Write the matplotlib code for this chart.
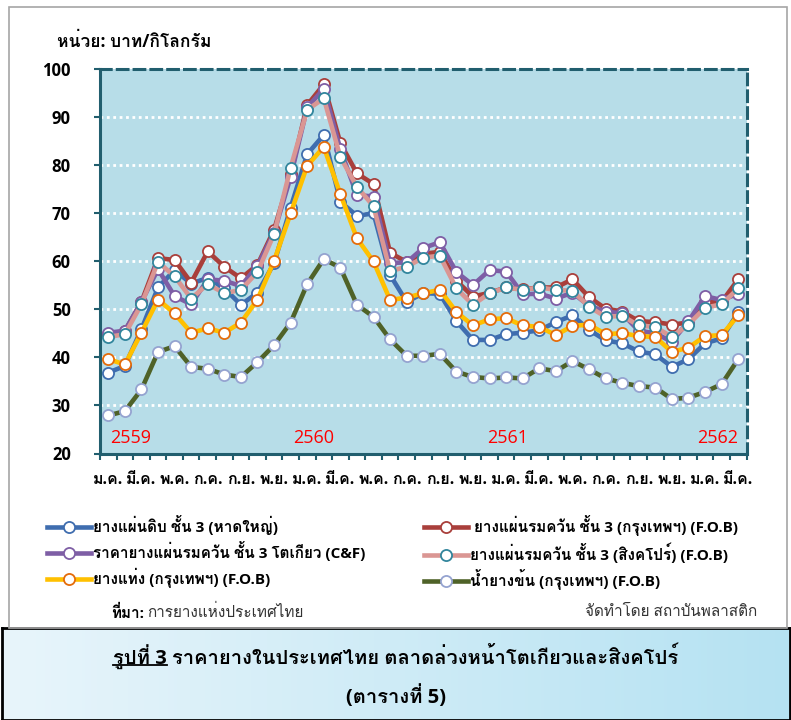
import numpy as np
import matplotlib
matplotlib.use('Agg')
import matplotlib.pyplot as plt
from matplotlib import font_manager as fm
from matplotlib.lines import Line2D
from matplotlib.patches import Rectangle
from matplotlib.colors import LinearSegmentedColormap
import matplotlib.patheffects as pe

# ---------------- data ----------------
month_labels = ['ม.ค.', 'มี.ค.', 'พ.ค.', 'ก.ค.', 'ก.ย.', 'พ.ย.',
                'ม.ค.', 'มี.ค.', 'พ.ค.', 'ก.ค.', 'ก.ย.', 'พ.ย.',
                'ม.ค.', 'มี.ค.', 'พ.ค.', 'ก.ค.', 'ก.ย.', 'พ.ย.',
                'ม.ค.', 'มี.ค.']
year_labels = ['2559', '2560', '2561', '2562']

rss3_hatyai = [36.8, 38.2, 45.8, 54.5, 58.1, 55.3, 56.5, 54.3, 50.9, 53.4, 59.5, 71.1, 82.2, 86.2,
               72.3, 69.4, 69.9, 57.1, 51.5, 53.3, 53.2, 47.5, 43.6, 43.6, 44.8, 45.1, 45.6, 47.3, 48.7,
               45.7, 43.5, 42.9, 41.2, 40.6, 38.0, 39.6, 42.9, 43.9, 49.3]
rss3_bkk = [44.8, 45.5, 51.5, 60.6, 60.2, 55.5, 62.0, 58.8, 56.4, 59.2, 66.5, 78.0, 92.4, 96.7,
            84.5, 78.2, 76.0, 61.7, 59.8, 61.5, 61.9, 55.9, 52.6, 53.4, 54.5, 54.1, 54.5, 54.5, 56.2,
            52.5, 50.1, 49.5, 47.5, 47.3, 46.8, 47.2, 51.5, 51.5, 56.2]
rss3_tokyo = [45.1, 45.5, 51.5, 58.3, 52.7, 51.0, 56.2, 55.9, 54.8, 59.0, 65.9, 77.5, 91.9, 95.8,
              83.2, 73.7, 73.4, 59.6, 59.7, 62.7, 63.9, 57.7, 55.0, 58.1, 57.8, 53.1, 53.2, 52.2, 53.4,
              50.7, 49.5, 49.1, 45.5, 45.0, 43.2, 47.5, 52.7, 51.9, 53.2]
rss3_sing = [44.2, 44.8, 51.0, 59.8, 56.8, 52.2, 55.2, 53.3, 54.0, 57.7, 65.6, 79.4, 91.4, 93.8,
             81.6, 75.4, 71.4, 57.9, 58.8, 60.7, 61.1, 54.3, 50.9, 53.3, 54.5, 54.0, 54.5, 54.0, 53.8,
             50.5, 48.4, 48.6, 46.6, 46.3, 44.2, 46.8, 50.3, 51.0, 54.3]
str20_bkk = [39.6, 38.5, 45.1, 52.0, 49.1, 45.1, 46.0, 45.1, 47.2, 52.0, 60.0, 69.9, 79.8, 83.7,
             73.9, 64.7, 59.9, 51.9, 52.4, 53.3, 54.0, 49.4, 46.6, 47.9, 48.1, 46.6, 46.3, 44.6, 46.5,
             46.8, 44.8, 45.0, 44.4, 44.2, 41.1, 42.0, 44.4, 44.6, 48.7]
latex_bkk = [27.9, 28.8, 33.3, 41.1, 42.3, 38.0, 37.6, 36.4, 35.9, 39.0, 42.5, 47.2, 55.2, 60.4,
             58.6, 50.9, 48.4, 43.7, 40.3, 40.3, 40.7, 37.0, 35.9, 35.6, 35.8, 35.6, 37.7, 37.1, 39.2,
             37.5, 35.6, 34.7, 34.0, 33.7, 31.3, 31.6, 32.8, 34.4, 39.6]

series_names = ['ยางแผ่นดิบ ชั้น 3 (หาดใหญ่)',
                ' ยางแผ่นรมควัน ชั้น 3 (กรุงเทพฯ) (F.O.B)',
                'ราคายางแผ่นรมควัน ชั้น 3 โตเกียว (C&F)',
                'ยางแผ่นรมควัน ชั้น 3 (สิงคโปร์) (F.O.B)',
                'ยางแท่ง (กรุงเทพฯ) (F.O.B)',
                'น้ำยางข้น (กรุงเทพฯ) (F.O.B)']

# ---------------- fonts ----------------
def weight_num(w):
    if isinstance(w, (int, float)):
        return int(w)
    return fm.weight_dict.get(str(w).lower(), 400)

all_weights = {}
for f in fm.fontManager.ttflist:
    all_weights.setdefault(f.name, set()).add(weight_num(f.weight))

def thai_fonts():
    found = {}
    try:
        from fontTools.ttLib import TTFont
    except Exception:
        return found
    for f in fm.fontManager.ttflist:
        try:
            tt = TTFont(f.fname, fontNumber=0, lazy=True)
            cmap = tt.getBestCmap()
            if cmap and 0x0E01 in cmap and 0x0E48 in cmap:
                found.setdefault(f.name, set()).add(weight_num(f.weight))
        except Exception:
            pass
    return found

tf = thai_fonts()
pref = ['Tahoma', 'Noto Sans Thai UI', 'Noto Sans Thai', 'Noto Sans Thai Looped', 'Loma', 'Garuda']
chosen = None
for p in pref:
    if p in tf and max(tf[p]) >= 600:
        chosen = p
        break
if chosen is None:
    for p in pref:
        if p in tf:
            chosen = p
            break
if chosen is None and tf:
    chosen = sorted(tf)[0]
thai_bold = bool(chosen) and max(tf[chosen]) >= 600

latin = 'DejaVu Sans'
for cand in ['Open Sans', 'Noto Sans', 'Liberation Sans', 'Lato', 'DejaVu Sans']:
    if cand in all_weights and max(all_weights[cand]) >= 600 and min(all_weights[cand]) <= 450:
        latin = cand
        break

family = [latin] + ([chosen] if chosen else []) + ['DejaVu Sans']
plt.rcParams['font.family'] = family

def bold_kw(color='black'):
    if thai_bold:
        return dict(fontweight='bold')
    return dict(fontweight='bold',
                path_effects=[pe.withStroke(linewidth=0.7, foreground=color)])

# ---------------- figure ----------------
W, H = 791, 720
fig = plt.figure(figsize=(W / 100, H / 100), dpi=100)

def fx(px):
    return px / W

def fy(py):
    return 1 - py / H

# outer grey frame
fig.patches.append(Rectangle((fx(9), fy(628)), fx(787) - fx(9), fy(7) - fy(628),
                             transform=fig.transFigure, fill=False, edgecolor='#A6A6A6', lw=1.2))

ax = fig.add_axes([fx(100), fy(453.5), fx(746.5) - fx(100), fy(68.5) - fy(453.5)])
ax.set_facecolor('#B7DDE8')

x = np.arange(len(rss3_hatyai))
spec = [
    (rss3_hatyai, '#3F6DAF', '#3F6DAF'),
    (rss3_bkk, '#A93F3B', '#A93F3B'),
    (rss3_tokyo, '#7E5EA5', '#7E5EA5'),
    (rss3_sing, '#DA9693', '#31859C'),
    (str20_bkk, '#FFC000', '#E46C0A'),
    (latex_bkk, '#4F6228', '#95A3D0'),
]
handles = []
for (vals, lc, mc), name in zip(spec, series_names):
    h, = ax.plot(x, vals, color=lc, lw=3.3, marker='o', ms=8, mfc='white', mec=mc, mew=1.3,
                 solid_joinstyle='round', label=name, zorder=3)
    handles.append(h)

ax.set_xlim(-0.5, len(x) - 0.5)
ax.set_ylim(20, 100)

# grid
for g in range(30, 100, 10):
    ax.axhline(g, color='white', lw=2.0, ls=(0, (1, 1.3)), zorder=1)

# spines
axcol = '#215E6E'
for s in ['left', 'bottom']:
    ax.spines[s].set_color(axcol)
    ax.spines[s].set_linewidth(2.2)
for s in ['top', 'right']:
    ax.spines[s].set_color(axcol)
    ax.spines[s].set_linewidth(2.2)
    ax.spines[s].set_linestyle((0, (3.5, 2)))

ax.set_yticks(range(20, 101, 10))
ax.tick_params(axis='y', direction='out', length=4, width=1.5, color=axcol,
               labelsize=12, pad=17)
for lab in ax.get_yticklabels():
    lab.set_fontweight('bold')

ax.set_xticks(x[::2])
ax.set_xticklabels(month_labels, fontsize=11.5)
for lab in ax.get_xticklabels():
    for k, v in bold_kw().items():
        getattr(lab, 'set_' + k)(v)
ax.set_xticks(np.arange(-0.5, len(x), 1), minor=True)
ax.tick_params(axis='x', which='major', length=0, pad=13.5)
ax.tick_params(axis='x', which='minor', direction='out', length=4, width=1.5, color=axcol)

# year labels
ypos = 23.2
yl_kw = dict(color='#FF0000', fontsize=13, va='center')
ax.text(0.1, ypos, year_labels[0], ha='left', **yl_kw)
ax.text(12.4, ypos, year_labels[1], ha='center', **yl_kw)
ax.text(24.1, ypos, year_labels[2], ha='center', **yl_kw)
ax.text(38.0, ypos, year_labels[3], ha='right', **yl_kw)

# unit label
fig.text(fx(57), fy(42), 'หน่วย: บาท/กิโลกรัม', fontsize=12.5, ha='left', va='center', **bold_kw())

# legends (two columns)
def mk_handle(h):
    return Line2D([], [], color=h.get_color(), lw=3.3, marker='o', ms=8, mfc='white',
                  mec=h.get_markeredgecolor(), mew=1.3)

left_idx = [0, 2, 4]
right_idx = [1, 3, 5]
leg_kw = dict(frameon=False, fontsize=11, handlelength=2.9, handletextpad=0.1,
              labelspacing=0.42, borderaxespad=0, borderpad=0, loc='upper left')
leg1 = fig.legend([mk_handle(handles[i]) for i in left_idx], [series_names[i] for i in left_idx],
                  bbox_to_anchor=(fx(47), fy(515)), **leg_kw)
leg2 = fig.legend([mk_handle(handles[i]) for i in right_idx], [series_names[i] for i in right_idx],
                  bbox_to_anchor=(fx(424), fy(515)), **leg_kw)
for leg in (leg1, leg2):
    for t in leg.get_texts():
        for k, v in bold_kw().items():
            getattr(t, 'set_' + k)(v)

# source line
fig.canvas.draw()
renderer = fig.canvas.get_renderer()
t1 = fig.text(fx(111), fy(613), 'ที่มา:', fontsize=11, ha='left', va='center', **bold_kw())
bb = t1.get_window_extent(renderer)
fig.text(bb.x1 / W + fx(3), fy(613), 'การยางแห่งประเทศไทย', fontsize=11, ha='left', va='center',
         color='#333333')
fig.text(fx(757), fy(613), 'จัดทำโดย สถาบันพลาสติก', fontsize=11, ha='right', va='center',
         color='#333333')

# caption box with gradient
cap = fig.add_axes([fx(2), 0, fx(790) - fx(2), fy(628)])
grad = np.linspace(0, 1, 256).reshape(1, -1)
cmap = LinearSegmentedColormap.from_list('cap', ['#E8F5FB', '#B5E2F2'])
cap.imshow(grad, aspect='auto', cmap=cmap, extent=(0, 1, 0, 1))
cap.set_xlim(0, 1)
cap.set_ylim(0, 1)
cap.set_xticks([])
cap.set_yticks([])
for s in cap.spines.values():
    s.set_color('black')
    s.set_linewidth(2)

line1 = 'รูปที่ 3 ราคายางในประเทศไทย ตลาดล่วงหน้าโตเกียวและสิงคโปร์'
prefix = 'รูปที่ 3'
cap_y1 = fy(656)
tfull = fig.text(0.5, cap_y1, line1, fontsize=14.5, ha='center', va='center', **bold_kw())
fig.canvas.draw()
bfull = tfull.get_window_extent(renderer)
tpre = fig.text(bfull.x0 / W, cap_y1, prefix, fontsize=14.5, ha='left', va='center', alpha=0,
                **bold_kw())
bpre = tpre.get_window_extent(renderer)
uy = fy(665)
fig.add_artist(Line2D([bpre.x0 / W, bpre.x1 / W], [uy, uy], transform=fig.transFigure,
                      color='black', lw=1.3))
fig.text(0.5, fy(697), '(ตารางที่ 5)', fontsize=14.5, ha='center', va='center', **bold_kw())

fig.savefig('out.png', dpi=100)
